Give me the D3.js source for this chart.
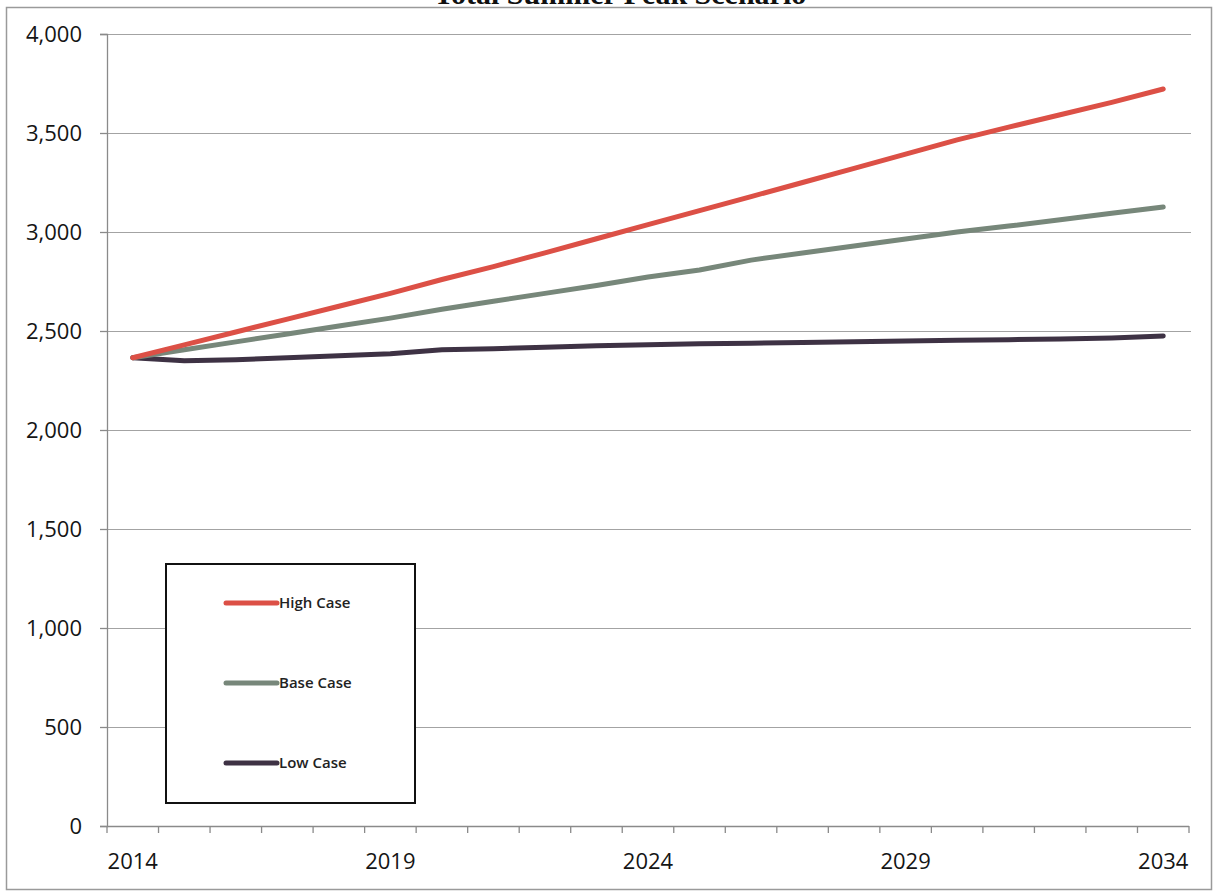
<!DOCTYPE html>
<html>
<head>
<meta charset="utf-8">
<script src="https://cdn.jsdelivr.net/npm/d3@7"></script>
<style>
  html, body { margin: 0; padding: 0; background: #fff; }
  svg { display: block; }
</style>
</head>
<body>
<svg id="chart" width="1217" height="895"></svg>
<script>
const titleText = "Total Summer Peak Scenario";
const years = ["2014","2015","2016","2017","2018","2019","2020","2021","2022","2023","2024",
               "2025","2026","2027","2028","2029","2030","2031","2032","2033","2034"];
const xTickLabels = ["2014","2019","2024","2029","2034"];
const yTicks = [0, 500, 1000, 1500, 2000, 2500, 3000, 3500, 4000];
const seriesNames = ["High Case", "Base Case", "Low Case"];
const seriesColors = ["#dc5046", "#77877a", "#3e3244"];
const highCase = [2365, 2430, 2495, 2560, 2625, 2690, 2760, 2825, 2895, 2966, 3037,
                  3108, 3179, 3250, 3321, 3393, 3465, 3530, 3592, 3655, 3722];
const baseCase = [2365, 2405, 2445, 2485, 2525, 2565, 2610, 2650, 2690, 2730, 2773,
                  2808, 2858, 2894, 2929, 2965, 3000, 3030, 3062, 3095, 3126];
const lowCase  = [2365, 2350, 2355, 2365, 2375, 2385, 2405, 2410, 2418, 2425, 2430,
                  2435, 2438, 2442, 2446, 2450, 2453, 2456, 2460, 2465, 2475];
const seriesValues = [highCase, baseCase, lowCase];

(function () {
const svg = d3.select("#chart");
const plotLeft = 107, plotRight = 1189, plotTop = 34, plotBottom = 826;

// outer frame
svg.append("rect")
  .attr("x", 6.5).attr("y", 7.5).attr("width", 1205).attr("height", 882)
  .attr("fill", "none").attr("stroke", "#9a9a9a").attr("stroke-width", 1.5);

// title (cut off at top in the reference)
svg.append("text")
  .attr("x", 620).attr("y", 4)
  .attr("text-anchor", "middle")
  .attr("font-family", "Liberation Serif")
  .attr("font-weight", "bold")
  .attr("font-size", 30)
  .attr("fill", "#111")
  .text(titleText);

const x = d3.scaleBand().domain(years).range([plotLeft, plotRight]).paddingInner(0).paddingOuter(0);
const y = d3.scaleLinear().domain([0, 4000]).range([plotBottom, plotTop]);

// gridlines
svg.append("g")
  .selectAll("line")
  .data(yTicks.filter(d => d > 0))
  .join("line")
  .attr("x1", plotLeft).attr("x2", plotRight + 2)
  .attr("y1", d => Math.round(y(d)) + 0.5).attr("y2", d => Math.round(y(d)) + 0.5)
  .attr("stroke", "#a3a3a3").attr("stroke-width", 1.2);

// y axis
const yAxis = svg.append("g")
  .attr("transform", `translate(${plotLeft},0)`)
  .call(d3.axisLeft(y).tickValues(yTicks).tickFormat(d3.format(",")).tickSize(7).tickPadding(18));
yAxis.select(".domain").attr("stroke", "#8a8a8a").attr("stroke-width", 1.3);
yAxis.selectAll(".tick line").attr("stroke", "#8a8a8a").attr("stroke-width", 1.3);
yAxis.selectAll("text")
  .attr("font-family", "Open Sans")
  .attr("font-size", 22)
  .attr("fill", "#151515");

// x axis (category axis, ticks between categories)
const xAxisG = svg.append("g").attr("transform", `translate(0,${plotBottom})`);
xAxisG.append("line")
  .attr("x1", plotLeft).attr("x2", plotRight)
  .attr("y1", 0.5).attr("y2", 0.5)
  .attr("stroke", "#8a8a8a").attr("stroke-width", 1.3);
const boundaries = years.map(d => x(d)).concat([x(years[years.length - 1]) + x.bandwidth()]);
xAxisG.selectAll("line.tk")
  .data(boundaries)
  .join("line")
  .attr("class", "tk")
  .attr("x1", d => d).attr("x2", d => d)
  .attr("y1", 0).attr("y2", 7)
  .attr("stroke", "#8a8a8a").attr("stroke-width", 1.3);
xAxisG.selectAll("text")
  .data(xTickLabels)
  .join("text")
  .attr("x", d => x(d) + x.bandwidth() / 2)
  .attr("y", 43)
  .attr("text-anchor", "middle")
  .attr("font-family", "Open Sans")
  .attr("font-weight", 500)
  .attr("font-size", 22)
  .attr("fill", "#151515")
  .text(d => d);

// lines
const line = d3.line()
  .x((d, i) => x(years[i]) + x.bandwidth() / 2)
  .y(d => y(d));
[2, 1, 0].forEach(k => {
  svg.append("path")
    .datum(seriesValues[k])
    .attr("d", line)
    .attr("fill", "none")
    .attr("stroke", seriesColors[k])
    .attr("stroke-width", 5)
    .attr("stroke-linejoin", "round")
    .attr("stroke-linecap", "round");
});

// legend
const lg = svg.append("g");
lg.append("rect")
  .attr("x", 166).attr("y", 564).attr("width", 249).attr("height", 239)
  .attr("fill", "#fff").attr("stroke", "#111").attr("stroke-width", 2);
const legendY = d3.scalePoint().domain(seriesNames).range([603, 763]);
seriesNames.forEach((name, k) => {
  lg.append("line")
    .attr("x1", 226).attr("x2", 277)
    .attr("y1", legendY(name)).attr("y2", legendY(name))
    .attr("stroke", seriesColors[k]).attr("stroke-width", 5)
    .attr("stroke-linecap", "round");
  lg.append("text")
    .attr("x", 279).attr("y", legendY(name) + 5)
    .attr("font-family", "Open Sans")
    .attr("font-weight", 600)
    .attr("font-size", 15)
    .attr("fill", "#222")
    .text(name);
});
})();
</script>
</body>
</html>
